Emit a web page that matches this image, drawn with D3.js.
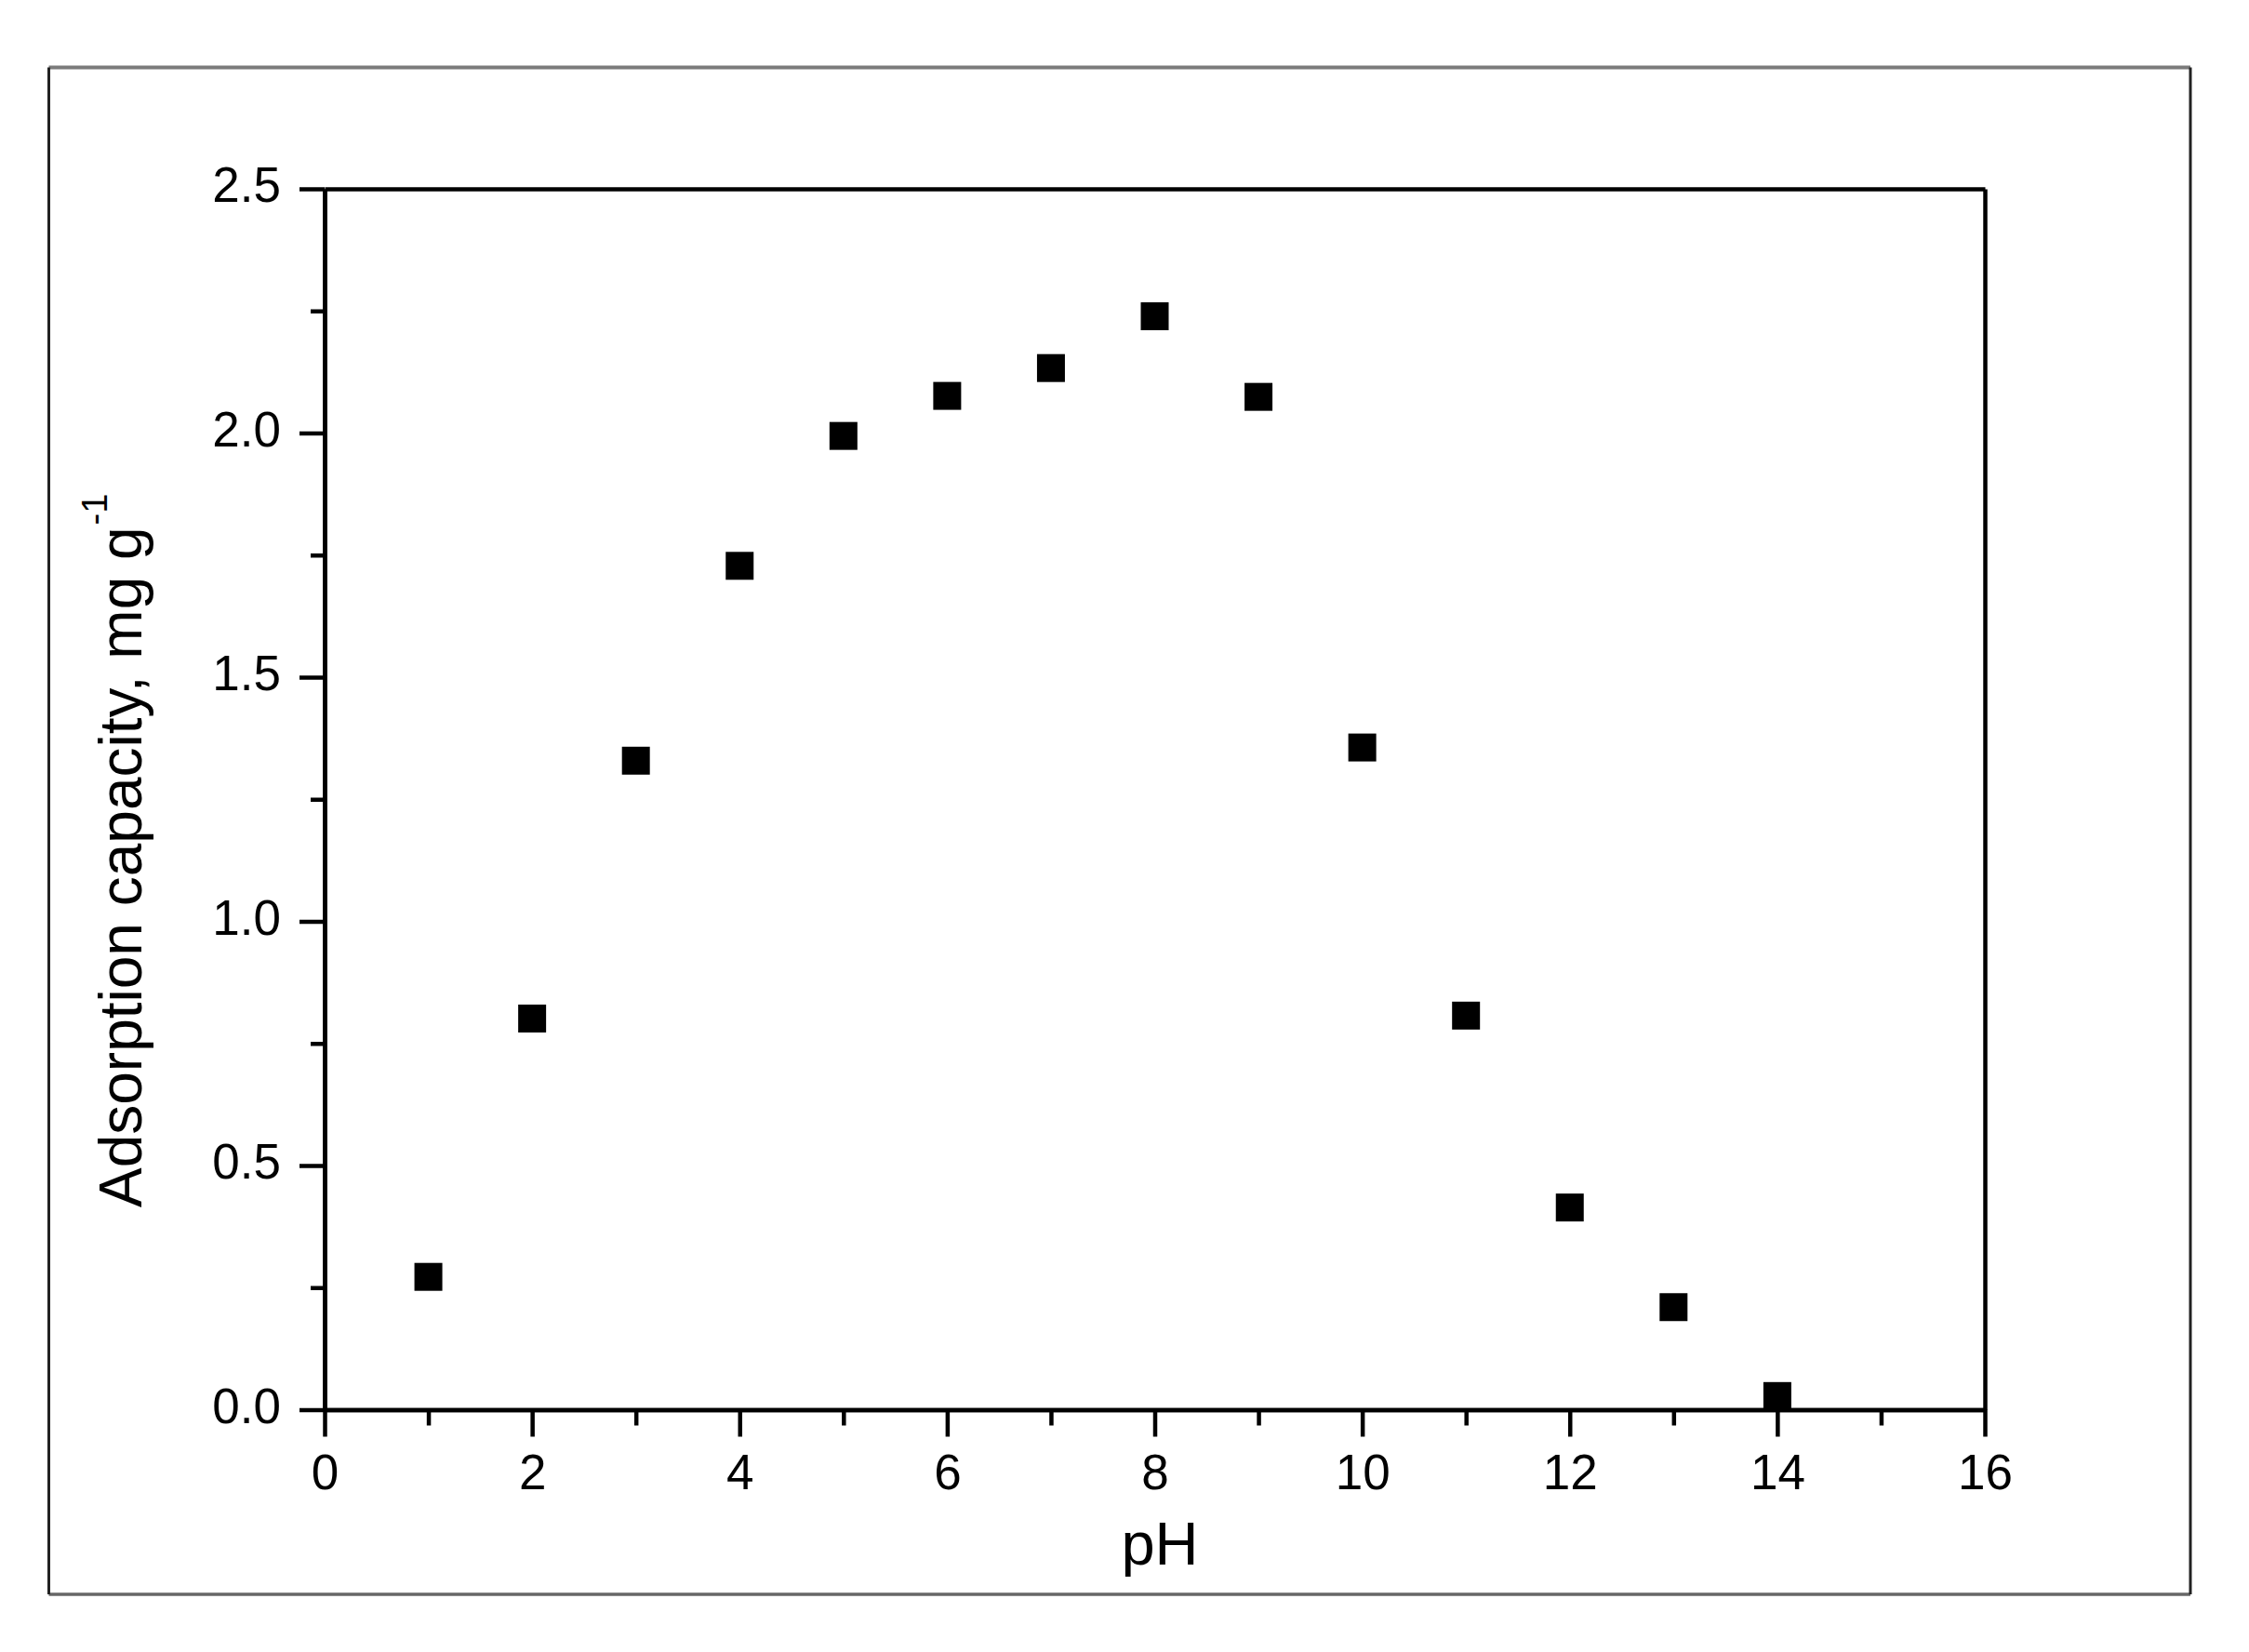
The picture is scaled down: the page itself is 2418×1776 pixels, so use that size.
<!DOCTYPE html>
<html>
<head>
<meta charset="utf-8">
<script src="https://cdn.jsdelivr.net/npm/d3@7/dist/d3.min.js"></script>
<style>
  html, body { margin: 0; padding: 0; background: #fff; }
  svg { display: block; }
  text { font-family: "Liberation Sans", Arial, Helvetica, sans-serif; fill: #000; }
</style>
</head>
<body>
<svg id="chart" width="2418" height="1776"></svg>
<script>
// ---- data ----
const pH = [1, 2, 3, 4, 5, 6, 7, 8, 9, 10, 11, 12, 13, 14];
const capacity = [0.272, 0.801, 1.329, 1.728, 1.994, 2.076, 2.133, 2.239, 2.074, 1.356, 0.807, 0.414, 0.210, 0.028];
const xMajorTicks = [0, 2, 4, 6, 8, 10, 12, 14, 16];
const xMinorTicks = [1, 3, 5, 7, 9, 11, 13, 15];
const yMajorTicks = [0.0, 0.5, 1.0, 1.5, 2.0, 2.5];
const yMinorTicks = [0.25, 0.75, 1.25, 1.75, 2.25];
const xTitle = "pH";
const yTitle = "Adsorption capacity, mg g";
const yTitleSup = "-1";

// ---- layout ----
const svg = d3.select("#chart");
const plot = { left: 349, right: 2134, top: 203, bottom: 1515.5 };

const x = d3.scaleLinear().domain([0, 16]).range([plot.left, plot.right]);
const y = d3.scaleLinear().domain([0, 2.5]).range([plot.bottom, plot.top]);

// outer frame
const frame = { left: 52.5, right: 2355, top: 72.5, bottom: 1714 };
svg.append("line").attr("x1", frame.left).attr("x2", frame.right).attr("y1", frame.top).attr("y2", frame.top)
  .attr("stroke", "#7b7b7b").attr("stroke-width", 4);
svg.append("line").attr("x1", frame.left).attr("x2", frame.right).attr("y1", frame.bottom).attr("y2", frame.bottom)
  .attr("stroke", "#666").attr("stroke-width", 3.5);
svg.append("line").attr("x1", frame.left).attr("x2", frame.left).attr("y1", frame.top).attr("y2", frame.bottom)
  .attr("stroke", "#222").attr("stroke-width", 3);
svg.append("line").attr("x1", frame.right).attr("x2", frame.right).attr("y1", frame.top).attr("y2", frame.bottom)
  .attr("stroke", "#222").attr("stroke-width", 3);

const axisW = 4.5;
const tickFont = 53;

function styleAxis(g) {
  g.selectAll("path.domain").attr("stroke", "#000").attr("stroke-width", axisW);
  g.selectAll(".tick line").attr("stroke", "#000").attr("stroke-width", axisW);
  g.selectAll("text").attr("font-size", tickFont).attr("fill", "#000")
    .attr("font-family", '"Liberation Sans", Arial, sans-serif');
}

// top & right frame of plot
svg.append("g").attr("transform", `translate(0,${plot.top})`)
  .call(d3.axisTop(x).tickValues([]).tickSizeOuter(0)).call(styleAxis);
svg.append("g").attr("transform", `translate(${plot.right},0)`)
  .call(d3.axisRight(y).tickValues([]).tickSizeOuter(0)).call(styleAxis);

// x axis minor
svg.append("g").attr("transform", `translate(0,${plot.bottom})`)
  .call(d3.axisBottom(x).tickValues(xMinorTicks).tickSize(17).tickSizeOuter(0).tickFormat(""))
  .call(styleAxis);
// x axis major
svg.append("g").attr("transform", `translate(0,${plot.bottom})`)
  .call(d3.axisBottom(x).tickValues(xMajorTicks).tickSize(29).tickSizeOuter(0).tickPadding(19).tickFormat(d3.format("d")))
  .call(styleAxis);

// y axis minor
svg.append("g").attr("transform", `translate(${plot.left},0)`)
  .call(d3.axisLeft(y).tickValues(yMinorTicks).tickSize(15).tickSizeOuter(0).tickFormat(""))
  .call(styleAxis);
// y axis major
const yAx = svg.append("g").attr("transform", `translate(${plot.left},0)`)
  .call(d3.axisLeft(y).tickValues(yMajorTicks).tickSize(27).tickSizeOuter(0).tickPadding(20).tickFormat(d3.format(".1f")))
  .call(styleAxis);
yAx.selectAll("text").attr("dy", "0.26em");

// axis titles
svg.append("text")
  .attr("x", 1247).attr("y", 1682)
  .attr("text-anchor", "middle")
  .attr("font-size", 65)
  .text(xTitle);

const yt = svg.append("text")
  .attr("transform", "translate(152,1298) rotate(-90)")
  .attr("text-anchor", "start")
  .attr("font-size", 64);
yt.append("tspan").text(yTitle);
yt.append("tspan").attr("font-size", 38).attr("dy", -37).attr("dx", 2).text(yTitleSup);

// points
const pts = pH.map((p, i) => ({ p, v: capacity[i] }));
svg.append("g").selectAll("path.pt").data(pts).enter().append("path")
  .attr("class", "pt")
  .attr("transform", d => `translate(${x(d.p)},${y(d.v)})`)
  .attr("d", d3.symbol().type(d3.symbolSquare).size(900))
  .attr("fill", "#000");
</script>
</body>
</html>
